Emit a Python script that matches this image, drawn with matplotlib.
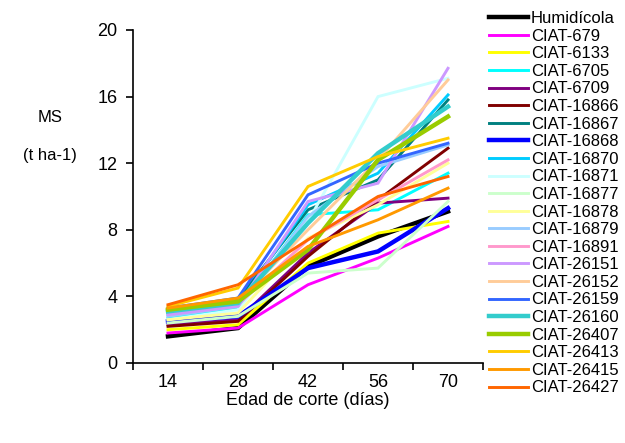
import matplotlib
matplotlib.use('Agg')
import matplotlib.pyplot as plt

plt.rcParams['font.family'] = ['Liberation Sans', 'DejaVu Sans']

days = ['14', '28', '42', '56', '70']

names = ['Humidícola', 'CIAT-679', 'CIAT-6133', 'CIAT-6705', 'CIAT-6709',
         'CIAT-16866', 'CIAT-16867', 'CIAT-16868', 'CIAT-16870', 'CIAT-16871',
         'CIAT-16877', 'CIAT-16878', 'CIAT-16879', 'CIAT-16891', 'CIAT-26151',
         'CIAT-26152', 'CIAT-26159', 'CIAT-26160', 'CIAT-26407', 'CIAT-26413',
         'CIAT-26415', 'CIAT-26427']

humidicola = [1.6, 2.1, 5.8, 7.6, 9.1]
ciat_679 = [1.8, 2.1, 4.7, 6.3, 8.2]
ciat_6133 = [2.0, 2.3, 6.0, 7.8, 8.5]
ciat_6705 = [2.7, 3.3, 8.9, 9.2, 11.4]
ciat_6709 = [2.3, 2.6, 6.6, 9.6, 9.9]
ciat_16866 = [2.2, 2.5, 6.4, 9.8, 12.9]
ciat_16867 = [3.2, 3.8, 9.2, 11.0, 15.8]
ciat_16868 = [2.5, 2.8, 5.7, 6.7, 9.3]
ciat_16870 = [2.9, 3.5, 9.5, 11.4, 16.1]
ciat_16871 = [2.6, 3.2, 8.5, 16.0, 17.1]
ciat_16877 = [2.4, 2.8, 5.4, 5.7, 9.7]
ciat_16878 = [2.6, 3.0, 7.5, 9.5, 12.0]
ciat_16879 = [2.8, 3.4, 8.8, 11.8, 13.1]
ciat_16891 = [3.0, 3.5, 7.4, 9.8, 12.2]
ciat_26151 = [2.9, 3.4, 9.7, 10.8, 17.7]
ciat_26152 = [3.1, 3.7, 8.0, 12.2, 17.0]
ciat_26159 = [3.3, 3.9, 10.1, 12.0, 13.2]
ciat_26160 = [3.1, 3.6, 8.4, 12.6, 15.4]
ciat_26407 = [3.2, 3.7, 6.8, 12.2, 14.8]
ciat_26413 = [3.4, 4.5, 10.6, 12.4, 13.5]
ciat_26415 = [3.3, 3.9, 7.0, 8.6, 10.5]
ciat_26427 = [3.5, 4.7, 7.4, 10.0, 11.2]

series = [humidicola, ciat_679, ciat_6133, ciat_6705, ciat_6709,
          ciat_16866, ciat_16867, ciat_16868, ciat_16870, ciat_16871,
          ciat_16877, ciat_16878, ciat_16879, ciat_16891, ciat_26151,
          ciat_26152, ciat_26159, ciat_26160, ciat_26407, ciat_26413,
          ciat_26415, ciat_26427]

colors = ['#000000', '#FF00FF', '#FFFF00', '#00FFFF', '#800080',
          '#800000', '#008080', '#0000FF', '#00CCFF', '#CCFFFF',
          '#CCFFCC', '#FFFF99', '#99CCFF', '#FF99CC', '#CC99FF',
          '#FFCC99', '#3366FF', '#33CCCC', '#99CC00', '#FFCC00',
          '#FF9900', '#FF6600']

thick = ['Humidícola', 'CIAT-16868', 'CIAT-26160', 'CIAT-26407']

fig = plt.figure(figsize=(6.25, 4.43), dpi=100)
ax = fig.add_axes([0.2128, 0.1806, 0.56, 0.7517])

xpos = [i + 0.5 for i in range(len(days))]
for name, vals, c in zip(names, series, colors):
    lw = 3.2 if name in thick else 2.1
    ax.plot(xpos, vals, color=c, lw=lw, label=name, solid_joinstyle='miter')

ax.set_xlim(0, 5)
ax.set_ylim(0, 20)
ax.set_yticks(range(0, 21, 4))
ax.set_xticks(range(0, 6))
ax.set_xticklabels([])
ax.set_xticks(xpos, minor=True)
ax.set_xticklabels(days, minor=True)
ax.tick_params(axis='x', which='minor', length=0, pad=8, labelsize=13)
ax.tick_params(axis='x', which='major', length=5, width=1.2)
ax.tick_params(axis='y', length=5, width=1.2, labelsize=13, pad=6)
for s in ['top', 'right']:
    ax.spines[s].set_visible(False)
for s in ['left', 'bottom']:
    ax.spines[s].set_linewidth(1.2)

ax.set_xlabel('Edad de corte (días)', fontsize=13, labelpad=1)
fig.text(0.08, 0.735, 'MS', fontsize=12, ha='center', va='center')
fig.text(0.08, 0.65, '(t ha-1)', fontsize=12, ha='center', va='center')

fig.legend(loc='upper left', bbox_to_anchor=(0.772, 0.99), frameon=False,
           fontsize=12, handlelength=2.3, handletextpad=0.2,
           labelspacing=0.155, borderaxespad=0)

fig.savefig('out.png', dpi=100)
